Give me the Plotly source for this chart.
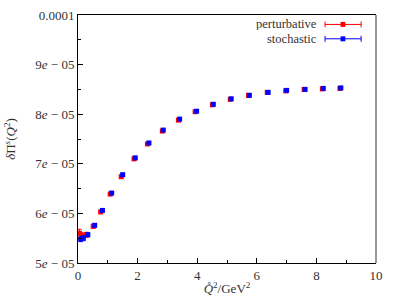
import plotly.graph_objects as go

# Data (values in units of 1e-5)
pert_x = [0.05, 0.16, 0.29, 0.51, 0.76, 1.08, 1.45, 1.88, 2.33, 2.83, 3.37, 3.93, 4.51, 5.11, 5.72, 6.35, 6.97, 7.59, 8.20, 8.79]
pert_y = [5.60, 5.55, 5.57, 5.74, 6.03, 6.39, 6.74, 7.10, 7.40, 7.66, 7.88, 8.05, 8.19, 8.30, 8.38, 8.44, 8.47, 8.50, 8.51, 8.52]
pert_err = [0.08, 0.06, 0.05, 0.04, 0.03, 0.03, 0.02, 0.02, 0.02, 0.01, 0.01, 0.01, 0.01, 0.01, 0.01, 0.01, 0.01, 0.01, 0.01, 0.01]
stoch_x = [0.09, 0.18, 0.33, 0.56, 0.82, 1.13, 1.50, 1.92, 2.38, 2.86, 3.41, 3.98, 4.54, 5.14, 5.75, 6.38, 7.00, 7.62, 8.23, 8.82]
stoch_y = [5.48, 5.50, 5.57, 5.76, 6.06, 6.41, 6.78, 7.12, 7.42, 7.68, 7.90, 8.06, 8.20, 8.31, 8.38, 8.44, 8.48, 8.50, 8.52, 8.53]
stoch_err = [0.05, 0.05, 0.04, 0.03, 0.03, 0.02, 0.02, 0.02, 0.01, 0.01, 0.01, 0.01, 0.01, 0.01, 0.01, 0.01, 0.01, 0.01, 0.01, 0.01]

y_ticks = [5e-5, 6e-5, 7e-5, 8e-5, 9e-5, 1e-4]
y_ticktext = ["5<i>e</i> − 05", "6<i>e</i> − 05", "7<i>e</i> − 05", "8<i>e</i> − 05", "9<i>e</i> − 05", "0.0001"]
x_ticks = [0, 2, 4, 6, 8, 10]

scale = 1e-5
FONT = "Liberation Serif"

fig = go.Figure()
fig.add_trace(go.Scatter(
    x=pert_x, y=[v * scale for v in pert_y], mode="markers", name="perturbative",
    marker=dict(symbol="square", size=5, color="#ff0000"),
    error_y=dict(type="data", array=[e * scale for e in pert_err], color="#ff0000", thickness=1, width=2),
    showlegend=False))
fig.add_trace(go.Scatter(
    x=stoch_x, y=[v * scale for v in stoch_y], mode="markers", name="stochastic",
    marker=dict(symbol="square", size=5, color="#0000ff"),
    error_y=dict(type="data", array=[e * scale for e in stoch_err], color="#0000ff", thickness=1, width=2),
    showlegend=False))

fig.update_layout(
    width=399, height=299,
    margin=dict(l=78, r=23, t=15, b=36),
    plot_bgcolor="white", paper_bgcolor="white",
    font=dict(family=FONT, size=13, color="#333"),
    xaxis=dict(range=[0, 10], tickvals=x_ticks, ticks="inside", ticklen=5, tickcolor="black",
               showline=True, linecolor="black", linewidth=1, mirror=True, showgrid=False, zeroline=False,
               automargin=False,
               minor=dict(ticks="inside", ticklen=3, dtick=1, tickcolor="black"),
               title=dict(text="<i>Q̊</i><sup>2</sup>/GeV<sup>2</sup>", standoff=2, font=dict(size=13))),
    yaxis=dict(range=[5e-5, 1e-4], tickvals=y_ticks, ticktext=y_ticktext, ticks="inside", ticklen=5,
               tickcolor="black", showline=True, linecolor="black", linewidth=1, showgrid=False, zeroline=False,
               automargin=False,
               minor=dict(ticks="inside", ticklen=3, dtick=5e-6, tickcolor="black"),
               title=dict(text="<i>δ</i>Π<sup><i>s</i></sup>(<i>Q</i><sup>2</sup>)", standoff=16, font=dict(size=13))),
)

# right border (gray)
fig.add_shape(type="line", xref="paper", yref="paper", x0=1, x1=1, y0=0, y1=1,
              line=dict(color="#777777", width=1.5))

# legend (text left of sample, gnuplot style)
leg = [("perturbative", "#ff0000", 0.962), ("stochastic", "#0000ff", 0.904)]
for label, col, yy in leg:
    fig.add_annotation(xref="paper", yref="paper", x=0.805, y=yy, text=label, showarrow=False,
                       xanchor="right", yanchor="middle", height=12, borderpad=0,
                       font=dict(family=FONT, size=12.5, color="#333"))
    fig.add_shape(type="line", xref="paper", yref="paper", x0=0.829, x1=0.950, y0=yy, y1=yy,
                  line=dict(color=col, width=1))
    for xe in (0.829, 0.950):
        fig.add_shape(type="line", xref="paper", yref="paper", x0=xe, x1=xe, y0=yy - 0.012, y1=yy + 0.012,
                      line=dict(color=col, width=1))
    fig.add_shape(type="rect", xref="paper", yref="paper", x0=0.881, x1=0.897, y0=yy - 0.01, y1=yy + 0.01,
                  line=dict(color=col, width=0), fillcolor=col)

fig.write_html("out.html", config={"displayModeBar": False},
               post_script="document.body.style.margin='0';document.body.style.overflow='hidden';")
